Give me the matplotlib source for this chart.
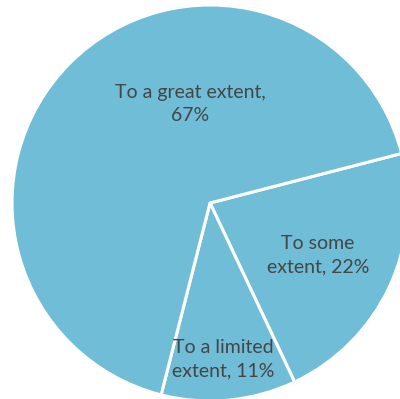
import matplotlib.pyplot as plt

# slice values, in clockwise order starting from the right-hand edge
labels = ["To some\nextent, 22%", "To a limited\nextent, 11%", "To a great extent,\n67%"]
values = [22, 11, 67]

# label positions as fractions of the radius
label_x = [0.545, 0.066, -0.10]
label_y = [-0.263, -0.79, 0.50]

fig = plt.figure(figsize=(4.0, 3.99), dpi=100)
# pie is bigger than the canvas and gets clipped on the right and bottom
ax = fig.add_axes([12 / 400, -2 / 399, 396 / 400, 396 / 399])
ax.pie(values, radius=1, startangle=14.5, counterclock=False,
       colors=["#70BDD7"] * 3,
       wedgeprops=dict(edgecolor="white", linewidth=2.2))

for txt, x, y in zip(labels, label_x, label_y):
    ax.text(x, y, txt, ha="center", va="center", fontsize=14,
            family="Lato", color="#454545", linespacing=1.45)

ax.set_xlim(-1, 1)
ax.set_ylim(-1, 1)
ax.set_aspect("equal")
ax.axis("off")
fig.savefig("out.png", dpi=100)
